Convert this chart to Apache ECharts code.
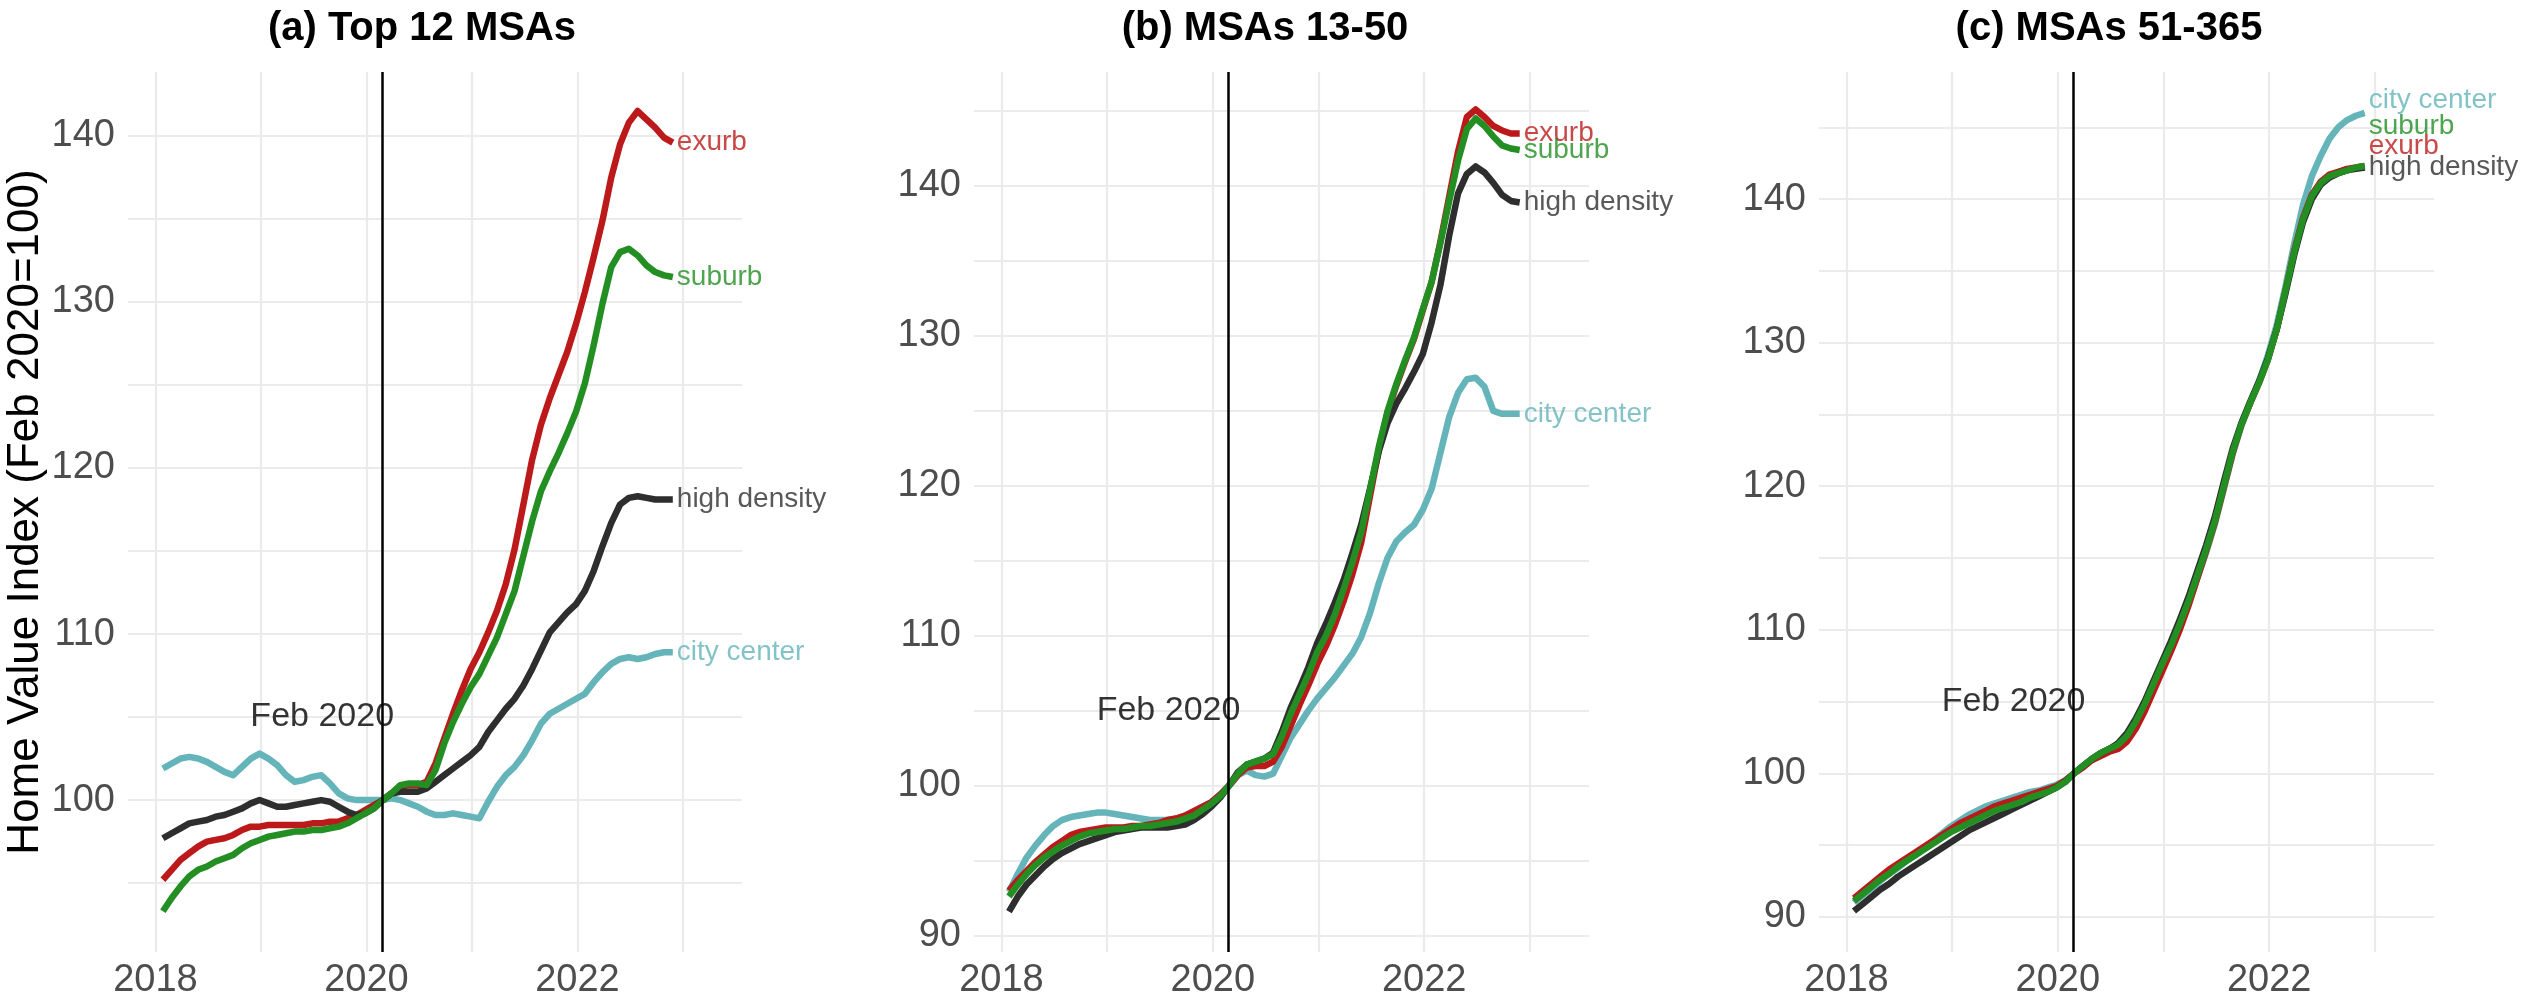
<!DOCTYPE html>
<html>
<head>
<meta charset="utf-8">
<script src="https://cdn.jsdelivr.net/npm/echarts@6/dist/echarts.min.js"></script>
<style>
  html, body { margin: 0; padding: 0; background: #ffffff; }
  #chart { width: 2531px; height: 1001px; }
</style>
</head>
<body>
<div id="chart"></div>
<script>
// ---- categories ----
const months = [
  '2018-01','2018-02','2018-03','2018-04','2018-05','2018-06','2018-07','2018-08','2018-09','2018-10','2018-11','2018-12',
  '2019-01','2019-02','2019-03','2019-04','2019-05','2019-06','2019-07','2019-08','2019-09','2019-10','2019-11','2019-12',
  '2020-01','2020-02','2020-03','2020-04','2020-05','2020-06','2020-07','2020-08','2020-09','2020-10','2020-11','2020-12',
  '2021-01','2021-02','2021-03','2021-04','2021-05','2021-06','2021-07','2021-08','2021-09','2021-10','2021-11','2021-12',
  '2022-01','2022-02','2022-03','2022-04','2022-05','2022-06','2022-07','2022-08','2022-09','2022-10','2022-11'
];
const seriesNames = ['city center', 'exurb', 'high density', 'suburb'];
const panelTitles = ['(a) Top 12 MSAs', '(b) MSAs 13-50', '(c) MSAs 51-365'];
const yAxisTitle = 'Home Value Index (Feb 2020=100)';
const eventLabel = 'Feb 2020';
const eventMonth = '2020-02';
const eventLabelMonth = '2019-07';
const eventLabelValue = 105;

// ---- panel (a) Top 12 MSAs ----
const topCity = [101.9,102.2,102.5,102.6,102.5,102.3,102.0,101.7,101.5,102.0,102.5,102.8,102.5,102.1,101.5,101.1,101.2,101.4,101.5,101.0,100.4,100.1,100.0,100.0,100.0,100.0,
  100.1,100.0,99.8,99.6,99.3,99.1,99.1,99.2,99.1,99.0,98.9,99.9,100.8,101.5,102.0,102.7,103.6,104.6,105.2,105.5,105.8,106.1,106.4,107.1,107.7,108.2,108.5,108.6,108.5,108.6,108.8,108.9,108.9];
const topExurb = [95.2,95.8,96.4,96.8,97.2,97.5,97.6,97.7,97.9,98.2,98.4,98.4,98.5,98.5,98.5,98.5,98.5,98.6,98.6,98.7,98.7,98.9,99.1,99.4,99.7,100.0,
  100.4,100.8,100.9,100.9,101.1,102.2,103.7,105.2,106.6,107.9,108.9,110.1,111.4,113.0,115.1,117.8,120.5,122.6,124.2,125.6,127.0,128.7,130.6,132.7,134.9,137.5,139.5,140.8,141.5,141.0,140.5,139.9,139.6];
const topHigh = [97.7,98.0,98.3,98.6,98.7,98.8,99.0,99.1,99.3,99.5,99.8,100.0,99.8,99.6,99.6,99.7,99.8,99.9,100.0,99.9,99.6,99.3,99.1,99.2,99.5,100.0,
  100.4,100.5,100.5,100.5,100.7,101.1,101.5,101.9,102.3,102.7,103.2,104.1,104.8,105.5,106.1,106.9,107.9,109.0,110.1,110.7,111.3,111.8,112.6,113.8,115.3,116.7,117.8,118.2,118.3,118.2,118.1,118.1,118.1];
const topSuburb = [93.3,94.1,94.8,95.4,95.8,96.0,96.3,96.5,96.7,97.1,97.4,97.6,97.8,97.9,98.0,98.1,98.1,98.2,98.2,98.3,98.4,98.6,98.9,99.2,99.5,100.0,
  100.4,100.9,101.0,101.0,100.9,101.8,103.4,104.7,105.8,106.8,107.6,108.7,109.8,111.2,112.6,114.7,116.8,118.6,119.8,120.9,122.1,123.4,125.1,127.4,129.9,132.1,133.0,133.2,132.8,132.2,131.8,131.6,131.5];

// ---- panel (b) MSAs 13-50 ----
const midCity = [92.9,94.1,95.2,96.0,96.7,97.3,97.7,97.9,98.0,98.1,98.2,98.2,98.1,98.0,97.9,97.8,97.7,97.7,97.7,97.8,98.0,98.3,98.6,98.9,99.4,100.0,
  100.7,101.0,100.7,100.6,100.8,102.0,103.2,104.1,105.0,105.8,106.5,107.2,108.0,108.8,109.9,111.5,113.5,115.2,116.3,116.9,117.4,118.4,119.8,122.2,124.6,126.2,127.1,127.2,126.6,125.0,124.8,124.8,124.8];
const midExurb = [93.0,93.7,94.3,94.9,95.4,95.9,96.3,96.7,96.9,97.0,97.1,97.2,97.2,97.2,97.3,97.3,97.4,97.5,97.7,97.8,98.0,98.3,98.6,98.9,99.4,100.0,
  100.7,101.2,101.3,101.3,101.6,102.6,104.0,105.4,106.7,108.1,109.3,110.7,112.3,114.1,116.2,119.3,122.4,124.9,126.7,128.3,129.8,131.7,133.6,136.3,139.3,142.3,144.6,145.1,144.6,144.0,143.7,143.5,143.5];
const midHigh = [91.6,92.6,93.4,94.0,94.6,95.1,95.5,95.8,96.1,96.3,96.5,96.7,96.9,97.0,97.1,97.2,97.2,97.2,97.2,97.3,97.4,97.7,98.1,98.6,99.2,100.0,
  100.9,101.4,101.6,101.8,102.2,103.6,105.2,106.5,107.9,109.5,110.8,112.2,113.7,115.5,117.4,119.8,122.3,124.2,125.5,126.5,127.6,128.8,130.9,133.4,136.7,139.5,140.8,141.3,140.9,140.2,139.4,139.0,138.9];
const midSuburb = [92.6,93.4,94.1,94.7,95.2,95.6,96.0,96.3,96.6,96.8,96.9,97.0,97.1,97.1,97.2,97.3,97.3,97.4,97.5,97.6,97.8,98.0,98.4,98.8,99.3,100.0,
  100.8,101.4,101.6,101.8,102.1,103.3,104.8,106.1,107.4,108.9,110.0,111.4,113.1,114.9,116.9,119.7,122.6,125.0,126.8,128.4,129.9,131.8,133.6,136.2,139.0,141.7,143.8,144.5,144.0,143.3,142.7,142.5,142.4];

// ---- panel (c) MSAs 51-365 ----
const smallCity = [91.0,91.5,92.0,92.5,93.0,93.4,93.9,94.3,94.8,95.3,95.8,96.3,96.7,97.1,97.4,97.7,97.9,98.1,98.3,98.5,98.7,98.8,99.0,99.2,99.5,100.0,
  100.5,101.0,101.4,101.7,102.0,102.6,103.5,104.7,106.0,107.4,108.7,110.2,111.8,113.6,115.4,117.4,119.8,122.2,124.2,125.8,127.3,129.1,131.2,133.9,136.9,139.6,141.6,143.0,144.2,145.0,145.5,145.8,146.0];
const smallExurb = [91.3,91.8,92.3,92.8,93.3,93.7,94.1,94.5,94.9,95.3,95.7,96.1,96.5,96.8,97.1,97.4,97.7,97.9,98.1,98.3,98.5,98.7,98.9,99.1,99.5,100.0,
  100.4,100.9,101.2,101.5,101.7,102.2,103.1,104.3,105.7,107.1,108.5,110.0,111.7,113.6,115.5,117.5,119.9,122.3,124.3,125.8,127.2,128.8,130.9,133.6,136.4,138.7,140.3,141.2,141.7,141.9,142.1,142.2,142.3];
const smallHigh = [90.4,90.9,91.4,91.9,92.3,92.8,93.2,93.6,94.0,94.4,94.8,95.2,95.6,96.0,96.3,96.6,96.9,97.2,97.5,97.8,98.1,98.4,98.7,99.0,99.4,100.0,
  100.5,101.0,101.4,101.7,102.1,102.8,103.8,105.0,106.4,107.8,109.2,110.7,112.3,114.1,115.9,117.9,120.3,122.6,124.4,125.9,127.3,128.9,130.9,133.4,136.1,138.4,140.0,141.0,141.5,141.8,142.0,142.1,142.2];
const smallSuburb = [91.1,91.6,92.1,92.6,93.0,93.5,93.9,94.3,94.7,95.1,95.5,95.9,96.2,96.5,96.8,97.1,97.4,97.6,97.8,98.0,98.3,98.5,98.7,99.0,99.4,100.0,
  100.5,101.0,101.4,101.7,102.0,102.6,103.6,104.8,106.2,107.6,108.9,110.4,112.0,113.8,115.6,117.6,120.0,122.4,124.3,125.8,127.2,128.8,130.9,133.6,136.3,138.6,140.2,141.1,141.6,141.8,142.0,142.2,142.3];
// end-label anchors in panel (c), repelled apart (order of seriesNames)
const smallLabelValues = [146.9, 143.7, 142.2, 145.1];

// ---- tick labels ----
const xTickLabels = [2018, 2020, 2022];
const yTickLabels = [90, 100, 110, 120, 130, 140];

// ---- styling / layout (not data) ----
const FONT = "'Liberation Sans', Arial, Helvetica, sans-serif";
const colors = ['#64B4B9', '#BC1A1A', '#2E2E2E', '#238F23'];
const gridLayout = [
  { left: 128, top: 72, width: 614, height: 880 },
  { left: 974, top: 72, width: 615, height: 880 },
  { left: 1819, top: 72, width: 615, height: 880 }
];
const titleCenters = [422, 1265, 2109];
const xRange = [2017.74, 2023.56];
const yRanges = [[90.85, 143.85], [88.9, 147.6], [87.55, 148.85]];

const panels = [
  { values: [topCity, topExurb, topHigh, topSuburb], labels: null },
  { values: [midCity, midExurb, midHigh, midSuburb], labels: null },
  { values: [smallCity, smallExurb, smallHigh, smallSuburb], labels: smallLabelValues }
];

// month string -> decimal year (end of month)
function toX(m) {
  const [y, mo] = m.split('-').map(Number);
  return y + (mo - 0.15) / 12;
}
const xs = months.map(toX);
const lastX = xs[xs.length - 1];

const option = {
  animation: false,
  backgroundColor: '#ffffff',
  textStyle: { fontFamily: FONT },
  title: panelTitles.map((t, i) => ({
    text: t,
    left: titleCenters[i],
    top: 9,
    padding: 0,
    textAlign: 'center',
    textStyle: { fontSize: 40, fontWeight: 'bold', color: '#000000', fontFamily: FONT }
  })),
  grid: gridLayout.map(g => Object.assign({ containLabel: false, outerBoundsMode: 'none' }, g)),
  xAxis: gridLayout.map((g, i) => ({
    type: 'value',
    gridIndex: i,
    min: xRange[0],
    max: xRange[1],
    minInterval: 1,
    maxInterval: 1,
    axisLine: { show: false },
    axisTick: { show: false },
    splitLine: { show: true, showMinLine: false, showMaxLine: false, lineStyle: { color: '#EBEBEB', width: 2.2 } },
    axisLabel: {
      showMinLabel: false, showMaxLabel: false,
      margin: 10,
      fontSize: 38, color: '#4D4D4D', fontFamily: FONT,
      formatter: v => {
        const r = Math.round(v);
        return (Math.abs(v - r) < 1e-6 && xTickLabels.indexOf(r) >= 0) ? String(r) : '';
      }
    }
  })),
  yAxis: gridLayout.map((g, i) => ({
    type: 'value',
    gridIndex: i,
    min: yRanges[i][0],
    max: yRanges[i][1],
    minInterval: 5,
    maxInterval: 5,
    name: i === 0 ? yAxisTitle : '',
    nameLocation: 'middle',
    nameRotate: 90,
    nameGap: 76,
    nameTextStyle: { fontSize: 44, color: '#000000', fontFamily: FONT },
    axisLine: { show: false },
    axisTick: { show: false },
    splitLine: { show: true, showMinLine: false, showMaxLine: false, lineStyle: { color: '#EBEBEB', width: 2.2 } },
    axisLabel: {
      showMinLabel: false, showMaxLabel: false,
      margin: 13,
      fontSize: 38, color: '#4D4D4D', fontFamily: FONT,
      formatter: v => {
        const r = Math.round(v);
        return (Math.abs(v - r) < 1e-6 && yTickLabels.indexOf(r) >= 0) ? String(r) : '';
      }
    }
  })),
  series: []
};

panels.forEach((p, pi) => {
  // lines (drawn alphabetically: suburb on top)
  p.values.forEach((vals, si) => {
    option.series.push({
      type: 'line',
      name: seriesNames[si],
      xAxisIndex: pi, yAxisIndex: pi,
      data: vals.map((v, k) => [xs[k], v]),
      showSymbol: false,
      symbol: 'none',
      smooth: false,
      silent: true,
      lineStyle: { color: colors[si], width: 6.5, cap: 'butt', join: 'round' },
      z: 3
    });
  });
  // end labels
  option.series.push({
    type: 'scatter',
    xAxisIndex: pi, yAxisIndex: pi,
    symbolSize: 0,
    silent: true,
    z: 4,
    data: seriesNames.map((n, si) => ({
      name: n,
      value: [lastX, p.labels ? p.labels[si] : p.values[si][p.values[si].length - 1]],
      label: { color: colors[si] }
    })),
    label: {
      show: true, position: 'right', distance: 4, formatter: '{b}',
      fontSize: 28, fontFamily: FONT
    }
  });
  // Feb 2020 marker line + annotation
  option.series.push({
    type: 'scatter',
    xAxisIndex: pi, yAxisIndex: pi,
    symbolSize: 0,
    silent: true,
    z: 6,
    data: [{ name: eventLabel, value: [toX(eventLabelMonth) + 0.01, eventLabelValue] }],
    label: {
      show: true, position: 'inside', formatter: '{b}',
      fontSize: 34, color: '#000000', fontFamily: FONT,
      textBorderWidth: 0
    },
    markLine: {
      silent: true,
      symbol: ['none', 'none'],
      label: { show: false },
      lineStyle: { color: '#000000', width: 2.5, type: 'solid' },
      emphasis: { disabled: true },
      data: [{ xAxis: toX(eventMonth) }]
    }
  });
});

const chart = echarts.init(document.getElementById('chart'), null, { renderer: 'canvas' });
chart.setOption(option);
</script>
</body>
</html>
